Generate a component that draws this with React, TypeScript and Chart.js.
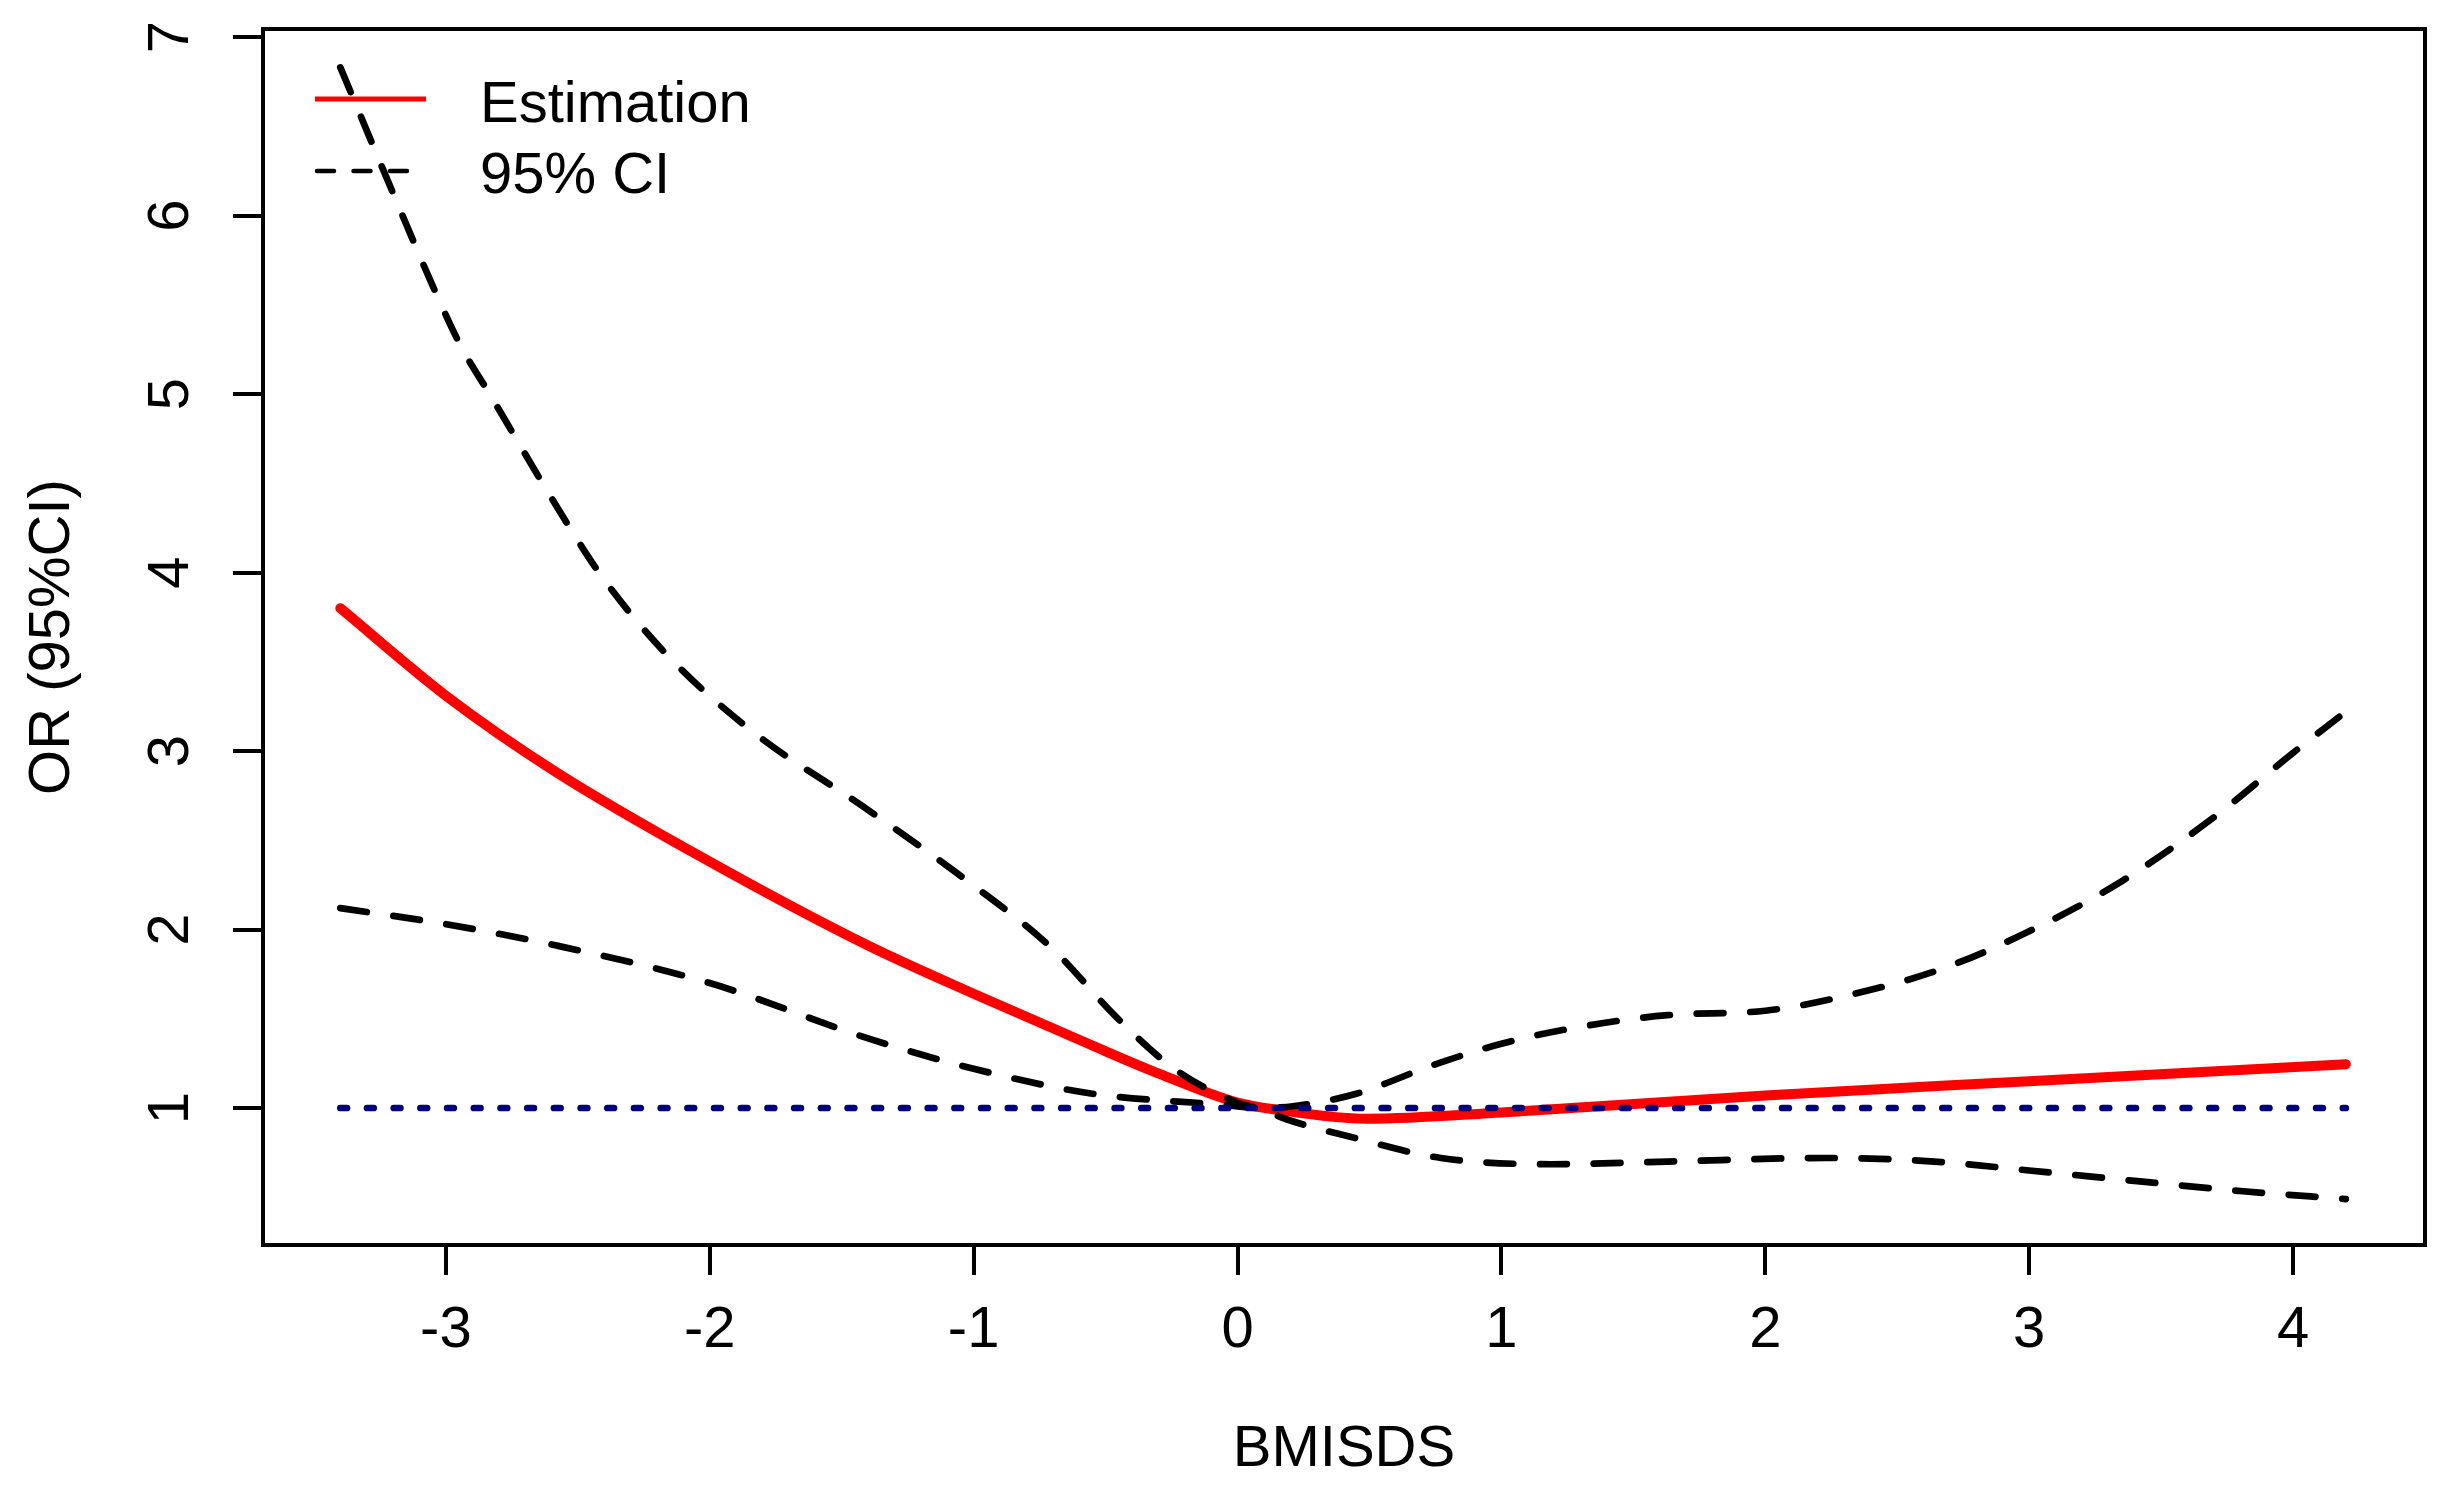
import React, { useEffect, useRef } from "react";
import { Chart, registerables } from "chart.js";

Chart.register(...registerables);

const W = 2459;
const H = 1495;

// Tick labels
const xTicks = [-3, -2, -1, 0, 1, 2, 3, 4];
const yTicks = [1, 2, 3, 4, 5, 6, 7];

// Estimation (OR)
const estX = [-3.4, -3.0, -2.58, -2.0, -1.4, -1.0, -0.55, -0.31, 0.0, 0.15, 0.49, 1.0, 2.0, 3.0, 4.2];
const estY = [3.8, 3.31, 2.88, 2.38, 1.91, 1.64, 1.35, 1.2, 1.03, 0.99, 0.94, 0.975, 1.07, 1.15, 1.245];

// 95% CI, band edge that starts high on the left
const ciAX = [-3.4, -3.19, -3.03, -2.94, -2.83, -2.58, -2.41, -2.15, -1.83, -1.42, -1.04, -0.7, -0.46, -0.24, 0.0, 0.1, 0.18, 0.45, 0.77, 1.19, 1.63, 2.23, 2.64, 3.0, 3.41, 3.8, 4.2];
const ciAY = [6.83, 6.09, 5.54, 5.26, 4.99, 4.37, 3.98, 3.52, 3.1, 2.69, 2.29, 1.89, 1.51, 1.22, 1.03, 0.99, 0.94, 0.83, 0.72, 0.685, 0.7, 0.72, 0.7, 0.65, 0.59, 0.535, 0.49];

// 95% CI, band edge that starts low on the left
const ciBX = [-3.4, -3.0, -2.58, -2.0, -1.4, -1.0, -0.55, -0.07, 0.1, 0.21, 0.45, 0.74, 1.0, 1.28, 1.63, 2.0, 2.31, 2.67, 3.0, 3.35, 3.71, 4.0, 4.2];
const ciBY = [2.12, 2.03, 1.91, 1.7, 1.39, 1.22, 1.08, 1.02, 1.0, 1.01, 1.08, 1.24, 1.36, 1.45, 1.52, 1.545, 1.63, 1.78, 1.99, 2.27, 2.64, 2.99, 3.22];

// Reference line OR = 1
const refX = [-3.4, 4.2];
const refY = [1, 1];

const legendLabels = ["Estimation", "95% CI"];

const X_MIN = -3.693;
const X_MAX = 4.5;
const Y_MIN = 0.2325;
const Y_MAX = 7.045;

const FONT_FAMILY = "'Liberation Sans', Arial, Helvetica, sans-serif";

const toPts = (xs: number[], ys: number[]) => xs.map((x, i) => ({ x, y: ys[i] }));

const legendPlugin = {
  id: "customLegend",
  afterDatasetsDraw(chart: any) {
    const { ctx, chartArea } = chart;
    const x0 = chartArea.left + 52;
    const x1 = chartArea.left + 163;
    const tx = chartArea.left + 217;
    ctx.save();
    // Estimation
    ctx.beginPath();
    ctx.strokeStyle = "#ff0000";
    ctx.lineWidth = 5;
    ctx.lineCap = "butt";
    ctx.setLineDash([]);
    ctx.moveTo(x0, chartArea.top + 70);
    ctx.lineTo(x1, chartArea.top + 70);
    ctx.stroke();
    // 95% CI
    ctx.beginPath();
    ctx.strokeStyle = "#000000";
    ctx.lineWidth = 4.5;
    ctx.lineCap = "round";
    ctx.setLineDash([17, 19.5]);
    ctx.moveTo(x0 + 2, chartArea.top + 142);
    ctx.lineTo(x0 + 96, chartArea.top + 142);
    ctx.stroke();
    ctx.setLineDash([]);
    ctx.fillStyle = "#000";
    ctx.font = `58px ${FONT_FAMILY}`;
    ctx.textBaseline = "alphabetic";
    ctx.textAlign = "left";
    ctx.fillText(legendLabels[0], tx, chartArea.top + 93);
    ctx.fillText(legendLabels[1], tx, chartArea.top + 164);
    ctx.restore();
  },
};

export default function App() {
  const ref = useRef<HTMLCanvasElement | null>(null);

  useEffect(() => {
    document.body.style.margin = "0";
    document.body.style.overflow = "hidden";
    const canvas = ref.current;
    if (!canvas) return;
    const font = { family: FONT_FAMILY, size: 58 };
    const axisGrid = {
      drawOnChartArea: false,
      drawTicks: true,
      tickLength: 30,
      color: "#000",
      tickColor: "#000",
      lineWidth: 4,
      tickWidth: 4,
    };
    const axisBorder = { display: true, color: "#000", width: 4 };
    const zeroPad = (s: any) => {
      s.paddingTop = 0;
      s.paddingBottom = 0;
      s.paddingLeft = 0;
      s.paddingRight = 0;
    };
    const boxAxis = (pos: string, size: number, min: number, max: number) => ({
      type: "linear",
      position: pos,
      min,
      max,
      display: true,
      grid: { drawOnChartArea: false, drawTicks: false },
      border: axisBorder,
      ticks: { display: false },
      afterFit: (s: any) => {
        if (pos === "top") s.height = size;
        else s.width = size;
        zeroPad(s);
      },
    });

    const chart = new Chart(canvas, {
      type: "line",
      data: {
        datasets: [
          {
            label: "OR = 1",
            data: toPts(refX, refY),
            borderColor: "#000080",
            borderWidth: 6.7,
            borderDash: [6.7, 20],
            borderCapStyle: "round",
            pointRadius: 0,
            tension: 0,
            fill: false,
          },
          {
            label: legendLabels[1],
            data: toPts(ciAX, ciAY),
            borderColor: "#000000",
            borderWidth: 6.7,
            borderDash: [26.8, 26.8],
            borderCapStyle: "round",
            pointRadius: 0,
            cubicInterpolationMode: "monotone",
            fill: false,
          },
          {
            label: legendLabels[1],
            data: toPts(ciBX, ciBY),
            borderColor: "#000000",
            borderWidth: 6.7,
            borderDash: [26.8, 26.8],
            borderCapStyle: "round",
            pointRadius: 0,
            cubicInterpolationMode: "monotone",
            fill: false,
          },
          {
            label: legendLabels[0],
            data: toPts(estX, estY),
            borderColor: "#ff0000",
            borderWidth: 10,
            borderCapStyle: "round",
            pointRadius: 0,
            cubicInterpolationMode: "monotone",
            fill: false,
          },
        ],
      } as any,
      options: {
        responsive: false,
        animation: false,
        layout: { padding: 0 },
        plugins: {
          legend: { display: false },
          tooltip: { enabled: false },
        },
        elements: { point: { radius: 0 } },
        scales: {
          x: {
            type: "linear",
            position: "bottom",
            min: X_MIN,
            max: X_MAX,
            afterBuildTicks: (s: any) => {
              s.ticks = xTicks.map((v) => ({ value: v }));
            },
            afterFit: (s: any) => {
              s.height = 250;
              zeroPad(s);
            },
            grid: axisGrid,
            border: axisBorder,
            ticks: {
              font,
              color: "#000",
              padding: 21,
              autoSkip: false,
              maxRotation: 0,
              minRotation: 0,
              callback: (v: any) => String(v),
            },
            title: {
              display: true,
              text: "BMISDS",
              font,
              color: "#000",
              padding: { top: 0, bottom: 10 },
            },
          },
          y: {
            type: "linear",
            position: "left",
            min: Y_MIN,
            max: Y_MAX,
            afterBuildTicks: (s: any) => {
              s.ticks = yTicks.map((v) => ({ value: v }));
            },
            afterFit: (s: any) => {
              s.width = 263;
              zeroPad(s);
            },
            grid: axisGrid,
            border: axisBorder,
            ticks: {
              font,
              color: "#000",
              padding: 45,
              autoSkip: false,
              minRotation: 90,
              maxRotation: 90,
              crossAlign: "center",
              callback: (v: any) => String(v),
            },
            title: {
              display: true,
              text: "OR (95%CI)",
              font,
              color: "#000",
              padding: { top: 18, bottom: 0 },
            },
          },
          x2: boxAxis("top", 29, X_MIN, X_MAX),
          y2: boxAxis("right", 34, Y_MIN, Y_MAX),
        },
      } as any,
      plugins: [legendPlugin],
    });
    return () => chart.destroy();
  }, []);

  return (
    <div style={{ position: "absolute", left: 0, top: 0, width: W, height: H }}>
      <canvas ref={ref} width={W} height={H} style={{ display: "block", width: W, height: H }} />
    </div>
  );
}
